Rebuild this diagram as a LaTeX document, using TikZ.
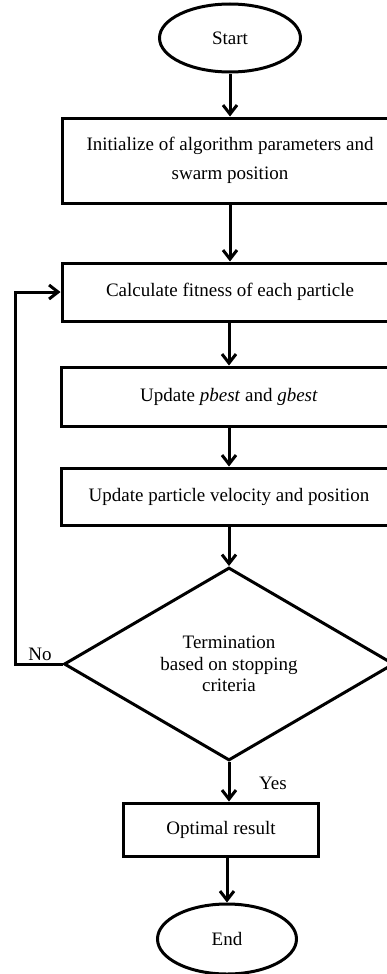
\documentclass[tikz,border=0pt]{standalone}
\usepackage{fontspec}
\setmainfont{Liberation Serif}
\usetikzlibrary{shapes.geometric,arrows.meta}
\begin{document}
\begin{tikzpicture}[x=1pt,y=-1pt,
	every node/.style={font=\fontsize{19}{23}\selectfont},
	term/.style={draw, ellipse, line width=3pt, minimum width=141pt, minimum height=68pt, inner sep=0pt},
	proc/.style={draw, rectangle, line width=3pt, minimum width=336pt, align=center, inner sep=0pt},
	decide/.style={draw, diamond, line width=3pt, minimum width=330pt, minimum height=188pt, align=center, inner sep=0pt},
	flow/.style={-{Straight Barb[length=9pt,width=14pt]}, line width=3pt}]
	\useasboundingbox (0,0) rectangle (387,974);
	% main column of the chart
	\node[term] (start) at (230,38) {Start};
	\node[proc, minimum height=85pt, font=\fontsize{19}{29}\selectfont] (init) at (230,160.5)
		{Initialize of algorithm parameters and\\swarm position};
	\node[proc, minimum height=58pt] (calc) at (230,292) {Calculate fitness of each particle};
	\node[proc, minimum height=59pt] (best) at (229,396.5) {Update \textit{pbest} and \textit{gbest}};
	\node[proc, minimum height=57pt] (move) at (229,496.5) {Update particle velocity and position};
	\node[decide, font=\fontsize{19}{21.5}\selectfont] (stop) at (229,664)
		{Termination\\based on stopping\\criteria};
	\node[proc, minimum width=195pt, minimum height=53pt] (opt) at (221,829.5) {Optimal result};
	\node[term, minimum width=139pt, minimum height=70pt] (end) at (227,939) {End};
	% answers of the test
	\node (no) at (40,654) {No};
	\node (yes) at (273,783) {Yes};
	% arrows
	\draw[flow] (start) -- (init);
	\draw[flow] (init.south -| calc.north) -- (calc);
	\draw[flow] (calc.south -| best.north) -- (best);
	\draw[flow] (best) -- (move);
	\draw[flow] (move) -- (stop);
	\draw[flow] (stop.south) -- (stop.south |- opt.north);
	\draw[flow] (end.north |- opt.south) -- (end);
	% loop back when the test fails
	\coordinate (back) at (15,664);
	\draw[flow] (stop.west) -- (back) |- (calc.west);
\end{tikzpicture}
\end{document}
